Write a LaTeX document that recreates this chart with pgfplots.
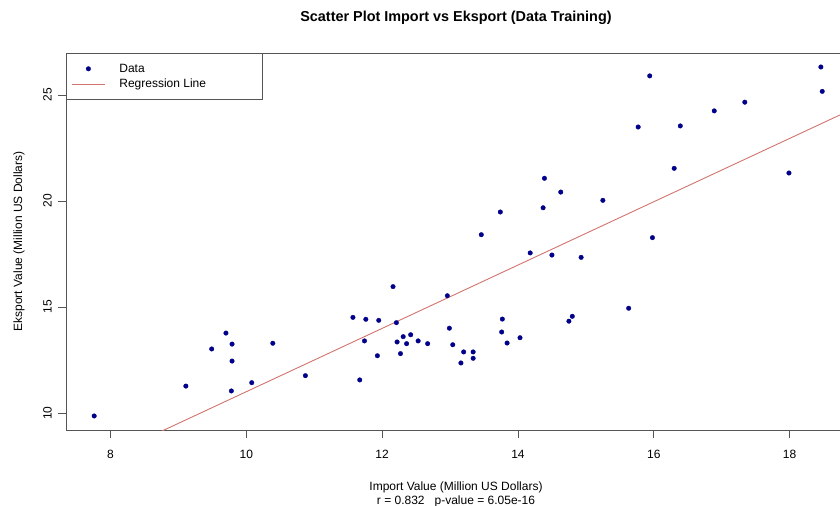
\documentclass[border=0pt]{standalone}
\usepackage{pgfplots}
\pgfplotsset{compat=1.18}
\usepackage{fontspec}
\setmainfont{Liberation Sans}
\definecolor{ptblue}{RGB}{0,0,139}
\definecolor{regred}{RGB}{210,115,110}
\definecolor{axgray}{RGB}{85,85,85}
\pgfplotsset{
  dotlegend/.style={legend image code/.code={\draw[mark repeat=2,mark phase=2,##1] plot coordinates {(0bp,0bp) (16.5bp,0bp) (33bp,0bp)};}},
  linelegend/.style={legend image code/.code={\draw[##1] (0bp,0bp) -- (33bp,0bp);}},
}
\begin{document}
\begin{tikzpicture}
\useasboundingbox (-66bp,-76bp) rectangle (774bp,430bp);
\begin{axis}[
  at={(0,0)}, anchor=south west,
  scale only axis, width=780bp, height=377bp,
  xmin=7.345, xmax=18.83, ymin=9.198, ymax=26.98,
  xtick={8,10,12,14,16,18}, ytick={10,15,20,25},
  xtick pos=bottom, ytick pos=left,
  tick align=outside, major tick length=8bp,
  axis line style={axgray, line width=0.9bp},
  every tick/.style={axgray, line width=0.9bp},
  /pgf/number format/assume math mode=true,
  font=\fontsize{12bp}{14bp}\selectfont,
  ticklabel style={font=\fontsize{12bp}{14bp}\selectfont, inner sep=0pt},
  xticklabel style={anchor=base, yshift=-20.3bp},
  yticklabel shift=6.5bp,
  yticklabel style={rotate=90, anchor=base},
  title={Scatter Plot Import vs Eksport (Data Training)},
  title style={font=\fontsize{14.4bp}{17bp}\selectfont\bfseries, at={(axis description cs:0.5,1.0674)}, anchor=base, inner sep=0pt},
  xlabel={Import Value (Million US Dollars)\\r = 0.832\hspace{10bp}p-value = 6.05e-16},
  xlabel style={align=center, at={(axis description cs:0.5,-0.1989)}, anchor=base, inner sep=0pt, font=\fontsize{12bp}{14bp}\selectfont},
  ylabel={Eksport Value (Million US Dollars)},
  ylabel style={at={(axis description cs:-0.0564,0.5)}, anchor=base, inner sep=0pt},
  legend style={at={(rel axis cs:0,1)}, anchor=north west, draw=axgray, line width=0.9bp,
    font=\fontsize{12bp}{14bp}\selectfont, inner xsep=5bp, inner ysep=8.5bp, row sep=1.5bp, column sep=12bp},
  legend cell align=left,
  clip=true,
]
\addplot[only marks, mark=*, mark size=2.3bp, color=ptblue, mark options={line width=0.3bp}, dotlegend]
coordinates {
(7.76,9.86) (9.11,11.27) (9.49,13.02) (9.70,13.77) (9.79,13.25) (9.79,12.45) (9.78,11.04)
(10.08,11.43) (10.39,13.29) (10.87,11.76) (11.57,14.51) (11.67,11.56) (11.76,14.42) (11.74,13.40)
(11.95,14.37) (11.93,12.70) (12.16,15.96) (12.21,14.26) (12.22,13.35) (12.31,13.60) (12.36,13.27)
(12.27,12.80) (12.42,13.69) (12.53,13.40) (12.67,13.27) (12.96,15.53) (12.99,14.00) (13.04,13.22)
(13.20,12.88) (13.16,12.36) (13.34,12.88) (13.34,12.58) (13.77,14.43) (13.76,13.82) (13.84,13.30)
(14.03,13.55) (13.46,18.41) (13.74,19.48) (14.18,17.55) (14.37,19.68) (14.39,21.07) (14.50,17.45)
(14.63,20.42) (14.75,14.33) (14.80,14.56) (14.93,17.34) (15.25,20.03) (15.63,14.94) (15.77,23.49)
(15.94,25.90) (15.98,18.27) (16.30,21.54) (16.39,23.54) (16.89,24.25) (17.34,24.66) (17.99,21.32)
(18.46,26.32) (18.48,25.17)
};
\addlegendentry{\makebox[136bp][l]{Data}}
\addplot[regred, line width=0.9bp, linelegend]
coordinates {(7.345,7.04) (18.83,24.19)};
\addlegendentry{\makebox[136bp][l]{Regression Line}}
\end{axis}
\end{tikzpicture}
\end{document}
